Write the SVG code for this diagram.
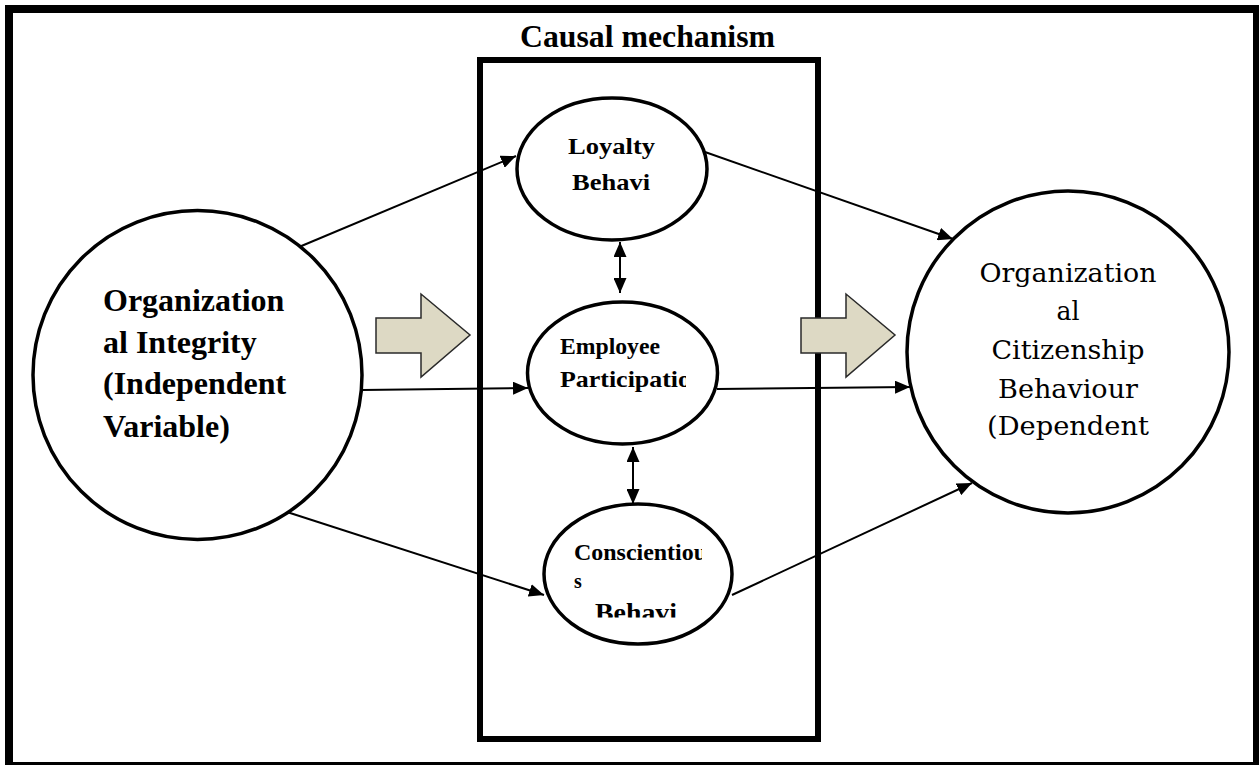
<svg xmlns="http://www.w3.org/2000/svg" width="1259" height="765" viewBox="0 0 1259 765">
<style>
.node{fill:#fff;stroke:#000;stroke-width:3.5}
.tb{font-family:"Liberation Serif","Times New Roman",serif;font-weight:bold;fill:#000}
.tr{font-family:"DejaVu Serif",serif;font-size:26px;fill:#000;text-anchor:middle}
.con{stroke:#000;stroke-width:2;fill:none}
.blk{fill:#ddd9c4;stroke:#2a2a2a;stroke-width:1.5}
</style>
<defs>
<marker id="ah" viewBox="0 0 15 13" refX="15" refY="6.5" markerWidth="15" markerHeight="13" markerUnits="userSpaceOnUse" orient="auto-start-reverse">
<path d="M0,0 L15,6.5 L0,13 Z" fill="#000"/>
</marker>
<clipPath id="cEmp"><rect x="540" y="320" width="146" height="90"/></clipPath>
<clipPath id="cCon"><rect x="560" y="530" width="142" height="87.5"/></clipPath>
</defs>
<rect width="1259" height="765" fill="#fff"/>
<g id="frame" fill="#000">
<rect x="5" y="5" width="1254" height="8"/>
<rect x="5" y="5" width="8" height="760"/>
<rect x="1253" y="5" width="6" height="760"/>
<rect x="5" y="762" width="1254" height="3"/>
</g>
<g id="causal-box">
<rect x="480" y="60" width="338" height="679" fill="none" stroke="#000" stroke-width="6"/>
<text class="tb" x="647.5" y="47" font-size="32" text-anchor="middle" textLength="255" lengthAdjust="spacingAndGlyphs">Causal mechanism</text>
</g>
<g id="connectors">
<line class="con" x1="299" y1="247" x2="516" y2="156" marker-end="url(#ah)"/>
<line class="con" x1="362" y1="390" x2="528" y2="388" marker-end="url(#ah)"/>
<line class="con" x1="287" y1="512" x2="544" y2="595" marker-end="url(#ah)"/>
<line class="con" x1="705" y1="152" x2="953" y2="239" marker-end="url(#ah)"/>
<line class="con" x1="717" y1="389" x2="910" y2="387" marker-end="url(#ah)"/>
<line class="con" x1="732" y1="595" x2="972" y2="483" marker-end="url(#ah)"/>
<line class="con" x1="620" y1="242" x2="620" y2="293" marker-start="url(#ah)" marker-end="url(#ah)"/>
<line class="con" x1="633" y1="447" x2="633" y2="504" marker-start="url(#ah)" marker-end="url(#ah)"/>
</g>
<g id="block-arrow-1"><polygon class="blk" points="376,318 421,318 421,294 470,335 421,377 421,353 376,353"/></g>
<g id="block-arrow-2"><polygon class="blk" points="801,318 846,318 846,294 895,335 846,377 846,353 801,353"/></g>
<g id="independent">
<circle class="node" cx="197.5" cy="375" r="164.5"/>
<text class="tb" font-size="32" x="103" y="311">Organization</text>
<text class="tb" font-size="32" x="103" y="353">al Integrity</text>
<text class="tb" font-size="32" x="103" y="394">(Independent</text>
<text class="tb" font-size="32" x="103" y="437">Variable)</text>
</g>
<g id="loyalty">
<ellipse class="node" cx="612" cy="169" rx="95" ry="71"/>
<text class="tb" font-size="24" x="568" y="154" textLength="87" lengthAdjust="spacingAndGlyphs">Loyalty</text>
<text class="tb" font-size="24" x="572" y="190" textLength="78" lengthAdjust="spacingAndGlyphs">Behavi</text>
</g>
<g id="employee">
<ellipse class="node" cx="622.5" cy="373" rx="95" ry="71"/>
<g clip-path="url(#cEmp)">
<text class="tb" font-size="24" x="560" y="354" textLength="100" lengthAdjust="spacingAndGlyphs">Employee</text>
<text class="tb" font-size="24" x="560" y="387" textLength="131" lengthAdjust="spacingAndGlyphs">Participatio</text>
</g>
</g>
<g id="conscientious">
<ellipse class="node" cx="638" cy="574" rx="94" ry="70"/>
<g clip-path="url(#cCon)">
<text class="tb" font-size="23" x="574" y="560" textLength="133" lengthAdjust="spacingAndGlyphs">Conscientiou</text>
<text class="tb" font-size="20" x="574" y="588">s</text>
<text class="tb" font-size="26" x="595" y="621" textLength="82" lengthAdjust="spacingAndGlyphs">Behavi</text>
</g>
</g>
<g id="dependent">
<circle class="node" cx="1068" cy="352" r="161"/>
<text class="tr" x="1068" y="282" textLength="177" lengthAdjust="spacingAndGlyphs">Organization</text>
<text class="tr" x="1068" y="320" textLength="23" lengthAdjust="spacingAndGlyphs">al</text>
<text class="tr" x="1068" y="359" textLength="153" lengthAdjust="spacingAndGlyphs">Citizenship</text>
<text class="tr" x="1068" y="398" textLength="140" lengthAdjust="spacingAndGlyphs">Behaviour</text>
<text class="tr" x="1068" y="435" textLength="162" lengthAdjust="spacingAndGlyphs">(Dependent</text>
</g>
</svg>
